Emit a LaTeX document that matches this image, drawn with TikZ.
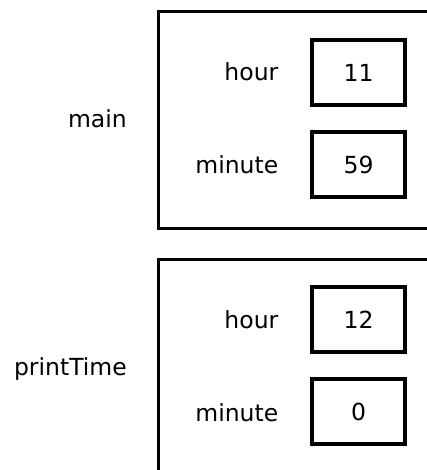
\documentclass[tikz,border=0pt]{standalone}
\usepackage{fontspec}
\setmainfont{DejaVu Sans}
\usetikzlibrary{positioning}

\begin{document}
\begin{tikzpicture}[x=1pt,y=-1pt]
		\tikzset{frame/.style = {shape=rectangle,draw,line width=2.8pt,
				minimum width=300pt,minimum height=216.5pt,
				anchor=north west,inner sep=0pt}}
		\tikzset{valbox/.style = {shape=rectangle,draw,line width=3.1pt,
				minimum width=93pt,minimum height=65pt,inner sep=0pt,
				font=\fontsize{23.5}{28}\selectfont}}
		\tikzset{varname/.style = {anchor=base east,inner sep=0pt,
				font=\fontsize{23.5}{28}\selectfont}}

		\useasboundingbox (0,0) rectangle (427,470);
		\clip (0,0) rectangle (427,470);

		% frames
		\node[frame] (mainframe) at (157,10.5) {};
		\node[frame] (ptframe) at (157,258) {};

		\node[varname] (mainlbl) at (127,127.5) {main};
		\node[varname] (ptlbl) at (127,375.5) {printTime};

		% main
		\node[varname] (hourA) at (278.5,81) {hour};
		\node[varname] (minuteA) at (278.5,173.5) {minute};
		\node[valbox] (hourvalA) at (358.5,72.5) {11};
		\node[valbox] (minutevalA) at (358.5,164.5) {59};

		% printTime
		\node[varname] (hourB) at (278.5,328.5) {hour};
		\node[varname] (minuteB) at (278.5,421) {minute};
		\node[valbox] (hourvalB) at (358.5,319.5) {12};
		\node[valbox] (minutevalB) at (358.5,411.5) {0};

\end{tikzpicture}
\end{document}
